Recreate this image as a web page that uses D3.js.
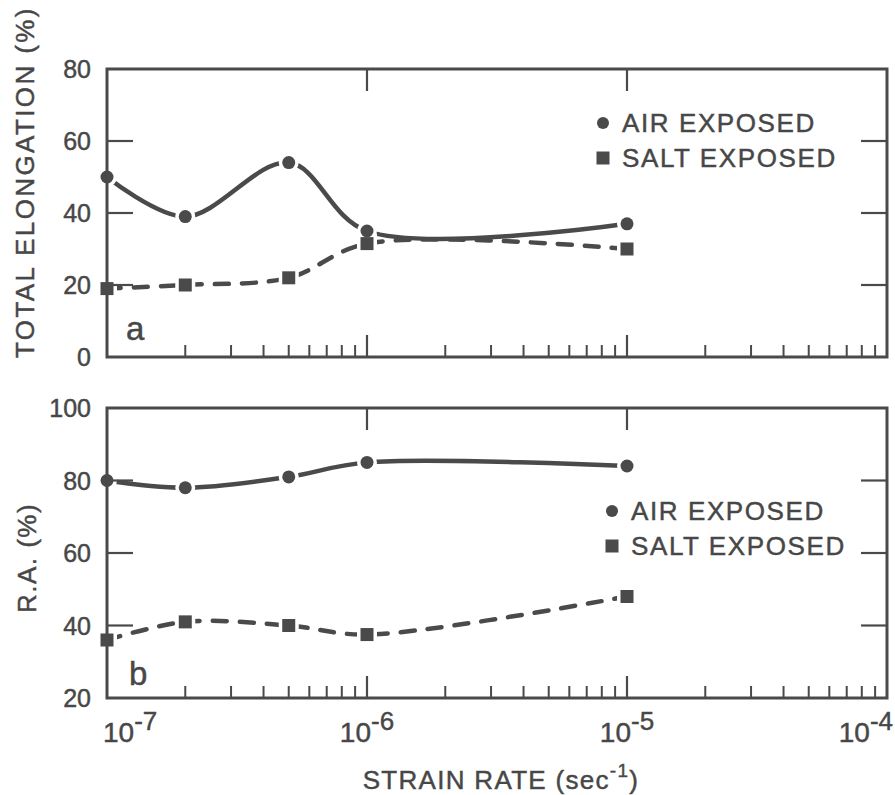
<!DOCTYPE html>
<html>
<head>
<meta charset="utf-8">
<script src="https://cdn.jsdelivr.net/npm/d3@7"></script>
<style>
  html, body { margin: 0; padding: 0; background: #fff; }
  svg { display: block; }
  text { font-family: "Liberation Sans", Arial, Helvetica, sans-serif; fill: #474747; stroke: #474747; stroke-width: 0.45; }
</style>
</head>
<body>
<svg id="chart" width="895" height="795"></svg>
<script>
// Strain rates tested (sec^-1)
const strainRates = [1e-7, 2e-7, 5e-7, 1e-6, 1e-5];

// (a) Total elongation, %
const elongationAir  = [50, 39, 54, 35, 37];
const elongationSalt = [19, 20, 22, 31.5, 30];

// (b) Reduction of area, %
const reductionAir  = [80, 78, 81, 85, 84];
const reductionSalt = [36, 41, 40, 37.5, 48];

// Axis ticks
const decadeTicks     = [1e-7, 1e-6, 1e-5, 1e-4];
const decadeExponents = ["-7", "-6", "-5", "-4"];
const elongationTicks = [0, 20, 40, 60, 80];
const reductionTicks  = [20, 40, 60, 80, 100];

const seriesNames = ["AIR EXPOSED", "SALT EXPOSED"];

const ink = "#4a4a4a";
const svg = d3.select("#chart");

const left = 107, right = 887;
const x = d3.scaleLog().domain([1e-7, 1e-4]).range([left, right]);

// minor ticks: 2..9 within each decade, major ticks at interior decades
const minorTicks = [];
for (let e = -7; e < -4; e++) {
  for (let m = 2; m <= 9; m++) minorTicks.push(m * Math.pow(10, e));
}
const innerDecades = decadeTicks.slice(1, -1);

function drawPanel(cfg) {
  const y = d3.scaleLinear().domain(cfg.domain).range([cfg.bottom, cfg.top]);
  const g = svg.append("g");

  const lineGen = d3.line()
    .x((d, i) => x(strainRates[i]))
    .y(d => y(d))
    .curve(d3.curveCatmullRom.alpha(0.5));

  // curves
  g.append("path").datum(cfg.air)
    .attr("d", lineGen)
    .attr("fill", "none").attr("stroke", ink)
    .attr("stroke-width", 4.5).attr("stroke-linecap", "round");
  g.append("path").datum(cfg.salt)
    .attr("d", lineGen)
    .attr("fill", "none").attr("stroke", ink)
    .attr("stroke-width", 4.5).attr("stroke-linecap", "round")
    .attr("stroke-dasharray", "14 13");

  // white gaps where the curves meet the markers
  const halos = g.append("g").attr("fill", "#fff");
  cfg.air.forEach((v, i) => halos.append("circle")
    .attr("cx", x(strainRates[i])).attr("cy", y(v)).attr("r", 10));
  cfg.salt.forEach((v, i) => halos.append("rect")
    .attr("x", x(strainRates[i]) - 10).attr("y", y(v) - 10)
    .attr("width", 20).attr("height", 20));

  // frame
  g.append("rect")
    .attr("x", left).attr("y", cfg.top)
    .attr("width", right - left).attr("height", cfg.bottom - cfg.top)
    .attr("fill", "none").attr("stroke", ink).attr("stroke-width", 3);

  // bottom axis ticks (pointing up)
  g.append("g").selectAll("line").data(minorTicks.filter(t => !innerDecades.includes(t)))
    .join("line")
    .attr("x1", d => x(d)).attr("x2", d => x(d))
    .attr("y1", cfg.bottom).attr("y2", cfg.bottom - 12)
    .attr("stroke", ink).attr("stroke-width", 2);
  g.append("g").selectAll("line").data(innerDecades)
    .join("line")
    .attr("x1", d => x(d)).attr("x2", d => x(d))
    .attr("y1", cfg.bottom).attr("y2", cfg.bottom - 22)
    .attr("stroke", ink).attr("stroke-width", 2.2);
  // top axis ticks (pointing down)
  g.append("g").selectAll("line").data(innerDecades)
    .join("line")
    .attr("x1", d => x(d)).attr("x2", d => x(d))
    .attr("y1", cfg.top).attr("y2", cfg.top + 22)
    .attr("stroke", ink).attr("stroke-width", 2.2);

  // y ticks on both sides, pointing inward
  const inner = cfg.ticks.slice(1, -1);
  g.append("g").selectAll("line").data(inner).join("line")
    .attr("x1", left).attr("x2", left + 26)
    .attr("y1", d => y(d)).attr("y2", d => y(d))
    .attr("stroke", ink).attr("stroke-width", 2.2);
  g.append("g").selectAll("line").data(inner).join("line")
    .attr("x1", right).attr("x2", right - 26)
    .attr("y1", d => y(d)).attr("y2", d => y(d))
    .attr("stroke", ink).attr("stroke-width", 2.2);

  // y tick labels
  g.append("g").selectAll("text").data(cfg.ticks).join("text")
    .attr("x", 91).attr("y", d => y(d)).attr("dy", "0.36em")
    .attr("text-anchor", "end").attr("font-size", 25)
    .text(d => d);

  // y axis title
  g.append("text")
    .attr("transform", `translate(${cfg.titleX},${cfg.titleY}) rotate(-90)`)
    .attr("text-anchor", cfg.titleAnchor)
    .attr("font-size", 26).attr("letter-spacing", cfg.titleSpacing)
    .text(cfg.title);

  // panel letter
  g.append("text")
    .attr("x", cfg.letterX).attr("y", cfg.letterY)
    .attr("font-size", 33).text(cfg.letter);

  // markers
  g.append("g").selectAll("circle").data(cfg.air).join("circle")
    .attr("cx", (d, i) => x(strainRates[i])).attr("cy", d => y(d))
    .attr("r", 6.5).attr("fill", ink);
  g.append("g").selectAll("rect").data(cfg.salt).join("rect")
    .attr("x", (d, i) => x(strainRates[i]) - 6.5).attr("y", d => y(d) - 6.5)
    .attr("width", 13).attr("height", 13).attr("fill", ink);

  // legend
  const lg = g.append("g").attr("transform", `translate(${cfg.legendX},${cfg.legendY})`);
  lg.append("circle").attr("cx", 0).attr("cy", 0).attr("r", 6).attr("fill", ink);
  lg.append("rect").attr("x", -6.5).attr("y", 28.5).attr("width", 13).attr("height", 13).attr("fill", ink);
  lg.selectAll("text").data(seriesNames).join("text")
    .attr("x", 19).attr("y", (d, i) => i * 35).attr("dy", "0.36em")
    .attr("font-size", 26).attr("letter-spacing", 1.6)
    .text(d => d);
}

drawPanel({
  top: 69, bottom: 357, domain: [0, 80], ticks: elongationTicks,
  air: elongationAir, salt: elongationSalt,
  title: "TOTAL ELONGATION (%)", titleX: 34, titleY: 358, titleAnchor: "start", titleSpacing: 2.4,
  letter: "a", letterX: 126, letterY: 340,
  legendX: 603, legendY: 123
});

drawPanel({
  top: 408, bottom: 698, domain: [20, 100], ticks: reductionTicks,
  air: reductionAir, salt: reductionSalt,
  title: "R.A. (%)", titleX: 36, titleY: 558, titleAnchor: "middle", titleSpacing: 1.5,
  letter: "b", letterX: 129, letterY: 685,
  legendX: 612, legendY: 511
});

// x tick labels: powers of ten, kept inside the figure edges
const xl = svg.append("g");
decadeTicks.forEach((t, i) => {
  const txt = xl.append("text").attr("y", 742).attr("font-size", 28);
  txt.append("tspan").text("10");
  txt.append("tspan").attr("dy", -12).attr("font-size", 26).text(decadeExponents[i]);
  const w = txt.node().getComputedTextLength();
  const cx = Math.max(103 + w / 2, Math.min(893 - w / 2, x(t)));
  txt.attr("x", cx - w / 2);
});

// x axis title
const xt = svg.append("text").attr("x", 501).attr("y", 789)
  .attr("text-anchor", "middle").attr("font-size", 26).attr("letter-spacing", 1.3);
xt.append("tspan").text("STRAIN RATE (sec");
xt.append("tspan").attr("dy", -12).attr("font-size", 19).text("-1");
xt.append("tspan").attr("dy", 12).text(")");
</script>
</body>
</html>
